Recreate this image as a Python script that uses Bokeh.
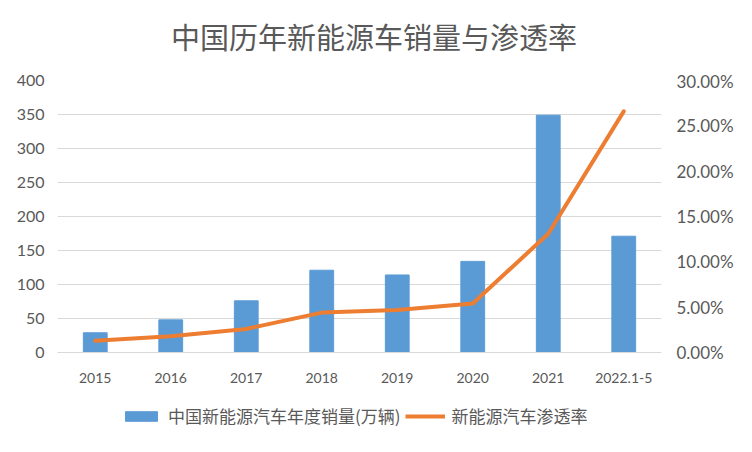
from bokeh.plotting import figure
from bokeh.layouts import column
from bokeh.models import (ColumnDataSource, FactorRange, Range1d, LinearAxis, FixedTicker,
                          NumeralTickFormatter, Legend, LegendItem, Label)
from bokeh.embed import file_html
from bokeh.resources import INLINE

years = ["2015", "2016", "2017", "2018", "2019", "2020", "2021", "2022.1-5"]
sales = [29, 48, 76, 121, 114, 134, 349, 171]          # 万辆
penetration = [0.013, 0.018, 0.026, 0.044, 0.047, 0.054, 0.131, 0.266]

left_ticks = [0, 50, 100, 150, 200, 250, 300, 350, 400]
right_ticks = [0.0, 0.05, 0.10, 0.15, 0.20, 0.25, 0.30]

title_text = "中国历年新能源车销量与渗透率"
bar_label = "中国新能源汽车年度销量(万辆)"
line_label = "新能源汽车渗透率"

TXT = "#595959"
NUM_FONT = "Lato"
CJK_FONT = "Noto Sans CJK SC"
BAR_C = "#5b9bd5"
LINE_C = "#ed7d31"


def strip(h):
    f = figure(width=736, height=h, output_backend="svg", toolbar_location=None,
               min_border=0, x_range=Range1d(0, 1), y_range=Range1d(0, 1))
    f.axis.visible = False
    f.grid.visible = False
    f.outline_line_color = None
    f.border_fill_color = "white"
    f.background_fill_color = "white"
    return f


# ---- title strip
tp = strip(70)
tp.add_layout(Label(x=0.524, y=0.5, text=title_text, text_align="center",
                    text_baseline="middle", text_font=CJK_FONT, text_font_size="29px",
                    text_color=TXT))

# ---- main chart
src = ColumnDataSource(dict(year=years, sales=sales, pen=penetration))

p = figure(x_range=FactorRange(*years, range_padding=0), y_range=Range1d(0, 400),
           width=736, height=328, output_backend="svg", toolbar_location=None,
           min_border_left=57, min_border_right=69, min_border_top=10, min_border_bottom=46)
p.extra_y_ranges = {"pct": Range1d(0, 0.30)}

p.outline_line_color = None
p.background_fill_color = "white"
p.border_fill_color = "white"

bars = p.vbar(x="year", top="sales", width=0.315, source=src, color=BAR_C)
line = p.line(x="year", y="pen", source=src, y_range_name="pct", line_color=LINE_C,
              line_width=4, line_join="round", line_cap="round")

p.xgrid.grid_line_color = None
p.ygrid.grid_line_color = "#d9d9d9"
p.ygrid.grid_line_width = 1
p.yaxis.ticker = FixedTicker(ticks=left_ticks)

for ax in [p.xaxis[0], p.yaxis[0]]:
    ax.axis_line_color = None
    ax.major_tick_line_color = None
    ax.minor_tick_line_color = None
    ax.major_tick_out = 0
    ax.major_tick_in = 0
    ax.major_label_text_color = TXT
    ax.major_label_text_font = NUM_FONT

p.yaxis.major_label_text_font_size = "16px"
p.xaxis.major_label_text_font_size = "14px"
p.yaxis.major_label_standoff = 13
p.xaxis.major_label_standoff = 20
p.xaxis.axis_line_color = "#d9d9d9"

raxis = LinearAxis(y_range_name="pct", ticker=FixedTicker(ticks=right_ticks),
                   formatter=NumeralTickFormatter(format="0.00%"))
raxis.axis_line_color = None
raxis.major_tick_line_color = None
raxis.minor_tick_line_color = None
raxis.major_tick_out = 0
raxis.major_tick_in = 0
raxis.major_label_text_color = TXT
raxis.major_label_text_font = NUM_FONT
raxis.major_label_text_font_size = "17px"
raxis.major_label_standoff = 15
p.add_layout(raxis, "right")

# ---- legend strip
lg = strip(38)
lb = lg.vbar(x=[-5], top=[-5], width=0.1, color=BAR_C)
ll = lg.line(x=[-5, -4], y=[-5, -5], line_color=LINE_C, line_width=4)

legend = Legend(items=[LegendItem(label=bar_label, renderers=[lb]),
                       LegendItem(label=line_label, renderers=[ll])],
                orientation="horizontal", location=(64, 8),
                label_text_font=CJK_FONT, label_text_font_size="17px",
                label_text_color=TXT, glyph_width=40, glyph_height=12,
                spacing=4, label_standoff=7, border_line_color=None,
                background_fill_alpha=0, margin=0, padding=0)
lg.add_layout(legend)

layout = column(tp, p, lg, spacing=0)
open("out.html", "w").write(file_html(layout, INLINE))
